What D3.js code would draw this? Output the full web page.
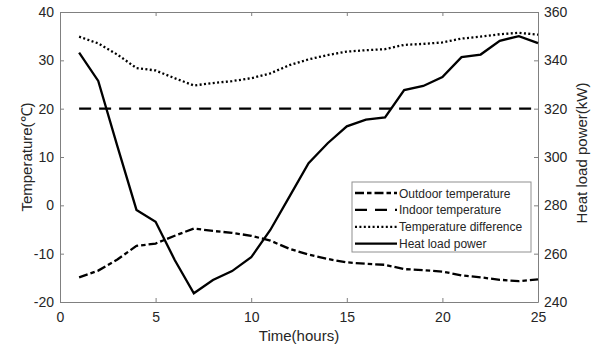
<!DOCTYPE html>
<html>
<head>
<meta charset="utf-8">
<script src="https://cdn.jsdelivr.net/npm/d3@7"></script>
<style>
  body { margin: 0; background: #fff; }
  svg text { font-family: "Liberation Sans", Arial, sans-serif; fill: #262626; }
</style>
</head>
<body>
<script>
// hours 1..25
var hours = d3.range(1, 26);
var outdoorTemp = [-14.9, -13.5, -11.2, -8.4, -7.9, -6.3, -4.8, -5.3, -5.7, -6.3, -7.3, -9.0, -10.2,
                   -11.1, -11.8, -12.1, -12.3, -13.2, -13.4, -13.7, -14.5, -14.9, -15.4, -15.7, -15.3];
var indoorTemp = [20, 20, 20, 20, 20, 20, 20, 20, 20, 20, 20, 20, 20,
                  20, 20, 20, 20, 20, 20, 20, 20, 20, 20, 20, 20];
var tempDiff = [34.9, 33.5, 31.2, 28.4, 27.9, 26.3, 24.8, 25.3, 25.7, 26.3, 27.3, 29.0, 30.2,
                31.1, 31.8, 32.1, 32.3, 33.2, 33.4, 33.7, 34.5, 34.9, 35.4, 35.7, 35.3];
var heatLoad = [343.2, 331.5, 304.5, 278.1, 273.2, 257.4, 243.6, 249.1, 252.8, 258.5, 269.8, 283.6, 297.4,
                305.7, 312.7, 315.5, 316.4, 327.7, 329.4, 333.1, 341.3, 342.4, 348.1, 350.0, 347.1];

var xTicks = [0, 5, 10, 15, 20, 25];
var leftTicks = [-20, -10, 0, 10, 20, 30, 40];
var rightTicks = [240, 260, 280, 300, 320, 340, 360];
var legendNames = ["Outdoor temperature", "Indoor temperature", "Temperature difference", "Heat load power"];

var width = 596, height = 347;
var margin = {top: 12, right: 58, bottom: 45, left: 60};
var plotW = width - margin.left - margin.right,
    plotH = height - margin.top - margin.bottom;

var svg = d3.select("body").append("svg")
    .attr("width", width)
    .attr("height", height);

var g = svg.append("g")
    .attr("transform", "translate(" + margin.left + "," + margin.top + ")");

var x = d3.scaleLinear().domain([0, 25]).range([0, plotW]);
var yL = d3.scaleLinear().domain([-20, 40]).range([plotH, 0]);
var yR = d3.scaleLinear().domain([240, 360]).range([plotH, 0]);

var axisColor = "#808080";
var fmt = function(d) { return String(d); };   // plain hyphen minus like matlab

// axes (ticks pointing inwards like matlab)
var xAxis = g.append("g").attr("transform", "translate(0," + plotH + ")")
    .call(d3.axisBottom(x).tickValues(xTicks).tickFormat(fmt).tickSizeInner(-4).tickSizeOuter(0).tickPadding(10));
var xTop = g.append("g")
    .call(d3.axisTop(x).tickValues(xTicks).tickSizeInner(-4).tickSizeOuter(0).tickFormat(""));
var yAxisL = g.append("g")
    .call(d3.axisLeft(yL).tickValues(leftTicks).tickFormat(fmt).tickSizeInner(-4).tickSizeOuter(0).tickPadding(6));
var yAxisR = g.append("g").attr("transform", "translate(" + plotW + ",0)")
    .call(d3.axisRight(yR).tickValues(rightTicks).tickFormat(fmt).tickSizeInner(-4).tickSizeOuter(0).tickPadding(6));

[xAxis, xTop, yAxisL, yAxisR].forEach(function(a) {
  a.select(".domain").attr("stroke", axisColor);
  a.selectAll(".tick line").attr("stroke", axisColor);
  a.selectAll(".tick text").style("font-size", "14px").attr("fill", "#262626");
});

// axis labels
svg.append("text")
    .attr("x", margin.left + plotW / 2).attr("y", 341)
    .attr("text-anchor", "middle").style("font-size", "15px")
    .text("Time(hours)");
svg.append("text")
    .attr("transform", "translate(32," + (margin.top + plotH / 2) + ") rotate(-90)")
    .attr("text-anchor", "middle").style("font-size", "15px")
    .text("Temperature(℃)");
svg.append("text")
    .attr("transform", "translate(587," + (margin.top + plotH / 2 - 4) + ") rotate(-90)")
    .attr("text-anchor", "middle").style("font-size", "15px")
    .text("Heat load power(kW)");

var styles = [
  {data: outdoorTemp, y: yL, dash: "9,3,4.5,3"},
  {data: indoorTemp, y: yL, dash: "12,8"},
  {data: tempDiff, y: yL, dash: "2,2.4"},
  {data: heatLoad, y: yR, dash: null}
];

styles.forEach(function(s) {
  var line = d3.line()
      .x(function(d, i) { return x(hours[i]); })
      .y(function(d) { return s.y(d); });
  g.append("path")
      .datum(s.data)
      .attr("fill", "none")
      .attr("stroke", "#000")
      .attr("stroke-width", 2.3)
      .attr("stroke-dasharray", s.dash)
      .attr("d", line);
});

// legend
var lg = svg.append("g").attr("transform", "translate(352,182)");
lg.append("rect")
    .attr("width", 179).attr("height", 70)
    .attr("fill", "#fff").attr("stroke", "#909090").attr("stroke-width", 1);
legendNames.forEach(function(name, i) {
  var yy = 11 + i * 16.9;
  lg.append("line")
      .attr("x1", 3).attr("x2", 45).attr("y1", yy).attr("y2", yy)
      .attr("stroke", "#000").attr("stroke-width", 2.3)
      .attr("stroke-dasharray", styles[i].dash);
  lg.append("text")
      .attr("x", 47).attr("y", yy + 4.5)
      .style("font-size", "12px")
      .text(name);
});
</script>
</body>
</html>
